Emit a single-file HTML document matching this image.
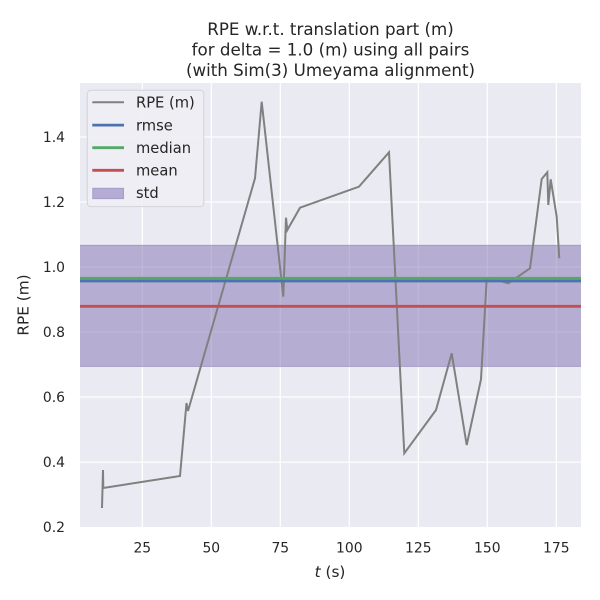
<!DOCTYPE html>
<html>
<head>
<meta charset="utf-8">
<style>
html,body{margin:0;padding:0;background:#fff;}
svg{display:block;}
text{font-family:"DejaVu Sans","Liberation Sans",sans-serif;fill:#262626;}
</style>
</head>
<body>
<svg width="600" height="600" viewBox="0 0 600 600" xmlns="http://www.w3.org/2000/svg">
  <rect x="0" y="0" width="600" height="600" fill="#ffffff"/>
  <!-- title -->
  <text x="330.5" y="35" font-size="16.7" text-anchor="middle">RPE w.r.t. translation part (m)</text>
  <text x="330.5" y="55.5" font-size="16.7" text-anchor="middle">for delta = 1.0 (m) using all pairs</text>
  <text x="330.5" y="76" font-size="16.7" text-anchor="middle">(with Sim(3) Umeyama alignment)</text>

  <!-- axes background -->
  <rect x="80" y="83" width="501" height="444" fill="#eaeaf2"/>
  <!-- grid -->
  <g stroke="#ffffff" stroke-width="1.2">
    <line x1="142.3" y1="83" x2="142.3" y2="527"/>
    <line x1="211.3" y1="83" x2="211.3" y2="527"/>
    <line x1="280.3" y1="83" x2="280.3" y2="527"/>
    <line x1="349.3" y1="83" x2="349.3" y2="527"/>
    <line x1="418.3" y1="83" x2="418.3" y2="527"/>
    <line x1="487.3" y1="83" x2="487.3" y2="527"/>
    <line x1="556.3" y1="83" x2="556.3" y2="527"/>
    <line x1="80" y1="462.2" x2="581" y2="462.2"/>
    <line x1="80" y1="397" x2="581" y2="397"/>
    <line x1="80" y1="332" x2="581" y2="332"/>
    <line x1="80" y1="267" x2="581" y2="267"/>
    <line x1="80" y1="202" x2="581" y2="202"/>
    <line x1="80" y1="137" x2="581" y2="137"/>
  </g>

  <!-- std band -->
  <rect x="80" y="245" width="501" height="121.7" fill="#8172b2" fill-opacity="0.5"/>
  <line x1="80" y1="245.3" x2="581" y2="245.3" stroke="#8172b2" stroke-opacity="0.4" stroke-width="1"/>
  <line x1="80" y1="366.4" x2="581" y2="366.4" stroke="#8172b2" stroke-opacity="0.4" stroke-width="1"/>

  <!-- RPE line -->
  <polyline fill="none" stroke="#808080" stroke-width="2" stroke-linejoin="miter" stroke-miterlimit="4"
    points="102,508 103,470 103.3,488 180,476 186.5,403 188,411 255,178.3 261.7,101.7 283.3,296.7 286,217.7 287.3,230 300,207.7 359,186.7 389,152.3 404.3,453.3 436,410 451.7,353.3 466.7,445 481,379.3 486.7,279 497,280 508.3,283.3 530,268.3 541.7,179 547.3,172.3 548.3,205 550.7,179.3 556.7,216.7 559.3,258.3"/>

  <!-- stat lines -->
  <line x1="80" y1="281" x2="581" y2="281" stroke="#4c72b0" stroke-width="2.8"/>
  <line x1="80" y1="278.3" x2="581" y2="278.3" stroke="#55a868" stroke-width="2.8"/>
  <line x1="80" y1="306.3" x2="581" y2="306.3" stroke="#c44e52" stroke-width="2.8"/>

  <!-- legend -->
  <rect x="87.3" y="90.3" width="116.5" height="116.3" rx="3.5" ry="3.5" fill="#eeeef4" fill-opacity="0.9" stroke="#d2d2da" stroke-width="1"/>
  <line x1="92.3" y1="102.3" x2="124" y2="102.3" stroke="#808080" stroke-width="2"/>
  <line x1="92.3" y1="125.1" x2="124" y2="125.1" stroke="#4c72b0" stroke-width="2.8"/>
  <line x1="92.3" y1="147.7" x2="124" y2="147.7" stroke="#55a868" stroke-width="2.8"/>
  <line x1="92.3" y1="170.3" x2="124" y2="170.3" stroke="#c44e52" stroke-width="2.8"/>
  <rect x="92.8" y="188.3" width="30.7" height="10.3" fill="#b4acd2" stroke="#a69cca" stroke-width="1"/>
  <text x="136" y="107.6" font-size="14.7">RPE (m)</text>
  <text x="136" y="130.4" font-size="14.7">rmse</text>
  <text x="136" y="153" font-size="14.7">median</text>
  <text x="136" y="175.6" font-size="14.7">mean</text>
  <text x="136" y="198" font-size="14.7">std</text>

  <!-- y tick labels -->
  <g font-size="13.9" text-anchor="end">
    <text x="65" y="532">0.2</text>
    <text x="65" y="467.2">0.4</text>
    <text x="65" y="402">0.6</text>
    <text x="65" y="337">0.8</text>
    <text x="65" y="272">1.0</text>
    <text x="65" y="207">1.2</text>
    <text x="65" y="142">1.4</text>
  </g>
  <!-- x tick labels -->
  <g font-size="13.9" text-anchor="middle">
    <text x="142.3" y="552.5">25</text>
    <text x="211.3" y="552.5">50</text>
    <text x="280.3" y="552.5">75</text>
    <text x="349.3" y="552.5">100</text>
    <text x="418.3" y="552.5">125</text>
    <text x="487.3" y="552.5">150</text>
    <text x="556.3" y="552.5">175</text>
  </g>

  <!-- axis labels -->
  <text x="28.3" y="305" font-size="15.3" text-anchor="middle" transform="rotate(-90 28.3 305)">RPE (m)</text>
  <text x="330" y="577" font-size="15.3" text-anchor="middle"><tspan font-style="italic">t</tspan> (s)</text>
</svg>
</body>
</html>
